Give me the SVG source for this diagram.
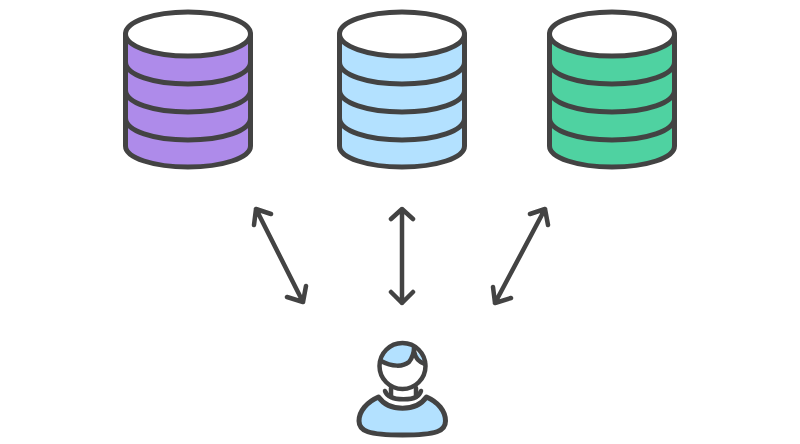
<svg xmlns="http://www.w3.org/2000/svg" width="800" height="444" viewBox="0 0 800 444">
<style>
.l{fill:none;stroke:#434343;stroke-width:4.500;stroke-linecap:round;stroke-linejoin:round}
.b{stroke:#434343;stroke-width:5;stroke-linejoin:round}
.r{fill:none;stroke:#434343;stroke-width:5}
.t{fill:#fff;stroke:#434343;stroke-width:5}
</style>
<defs>
<g id="cyl">
<path class="b" d="M-62.500 34V146C-62.500 158-34 167 0 167S62.500 158 62.500 146V34Z"/>
<path class="r" d="M-62.500 62C-62.500 75-34 84 0 84S62.500 75 62.500 62"/>
<path class="r" d="M-62.500 90C-62.500 103-34 112 0 112S62.500 103 62.500 90"/>
<path class="r" d="M-62.500 118C-62.500 131-34 140 0 140S62.500 131 62.500 118"/>
<ellipse class="t" cx="0" cy="34" rx="62.500" ry="22"/>
</g>
</defs>
<rect width="800" height="444" fill="#fff"/>
<g id="db-purple"><use href="#cyl" x="188" fill="#ae8bea"/></g>
<g id="db-blue"><use href="#cyl" x="402" fill="#b3e1ff"/></g>
<g id="db-green"><use href="#cyl" x="612" fill="#4fd2a1"/></g>
<g id="connectors" class="l">
<path d="M256 209L303 302M254 225L256 209L271 214M287 297L303 302L306 286"/>
<path d="M402 209V303M391 219L402 209L413 219M391 292L402 303L413 292"/>
<path d="M545 209L495 303M530 214L545 209L548 225M493 287L495 303L511 298"/>
</g>
<g id="user">
<path d="M402 344C390 344 382 352 381 361C392 367 403 367 409 362C412 358 414 352 414 348C410 345 406 344 402 344Z" fill="#b3e1ff"/>
<path d="M415 351C415 357 418 362 425 364C424 358 420 354 415 351Z" fill="#b3e1ff"/>
<circle cx="402.500" cy="366" r="23" fill="none" stroke="#434343" stroke-width="4.500"/>
<path class="l" d="M381 361C392 367 403 367 409 362C412 358 414 352 414 348M414 351C415 357 418 362 425 364" stroke-width="4"/>
<path class="l" d="M391 388V397C396 400 411 400 416 397V388" stroke-width="4"/>
<path class="l" d="M385 391C386 394 388 396 391 397M421 391C420 394 418 396 416 397" stroke-width="4"/>
<path d="M378.500 397C389 412 416 412 426.500 397C438 402 445.500 411 445.500 421C445.500 431 437 435 402.500 435S359 431 359 421C359 411 367 402 378.500 397Z" fill="#b3e1ff" stroke="#434343" stroke-width="5" stroke-linejoin="round"/>
</g>
</svg>
